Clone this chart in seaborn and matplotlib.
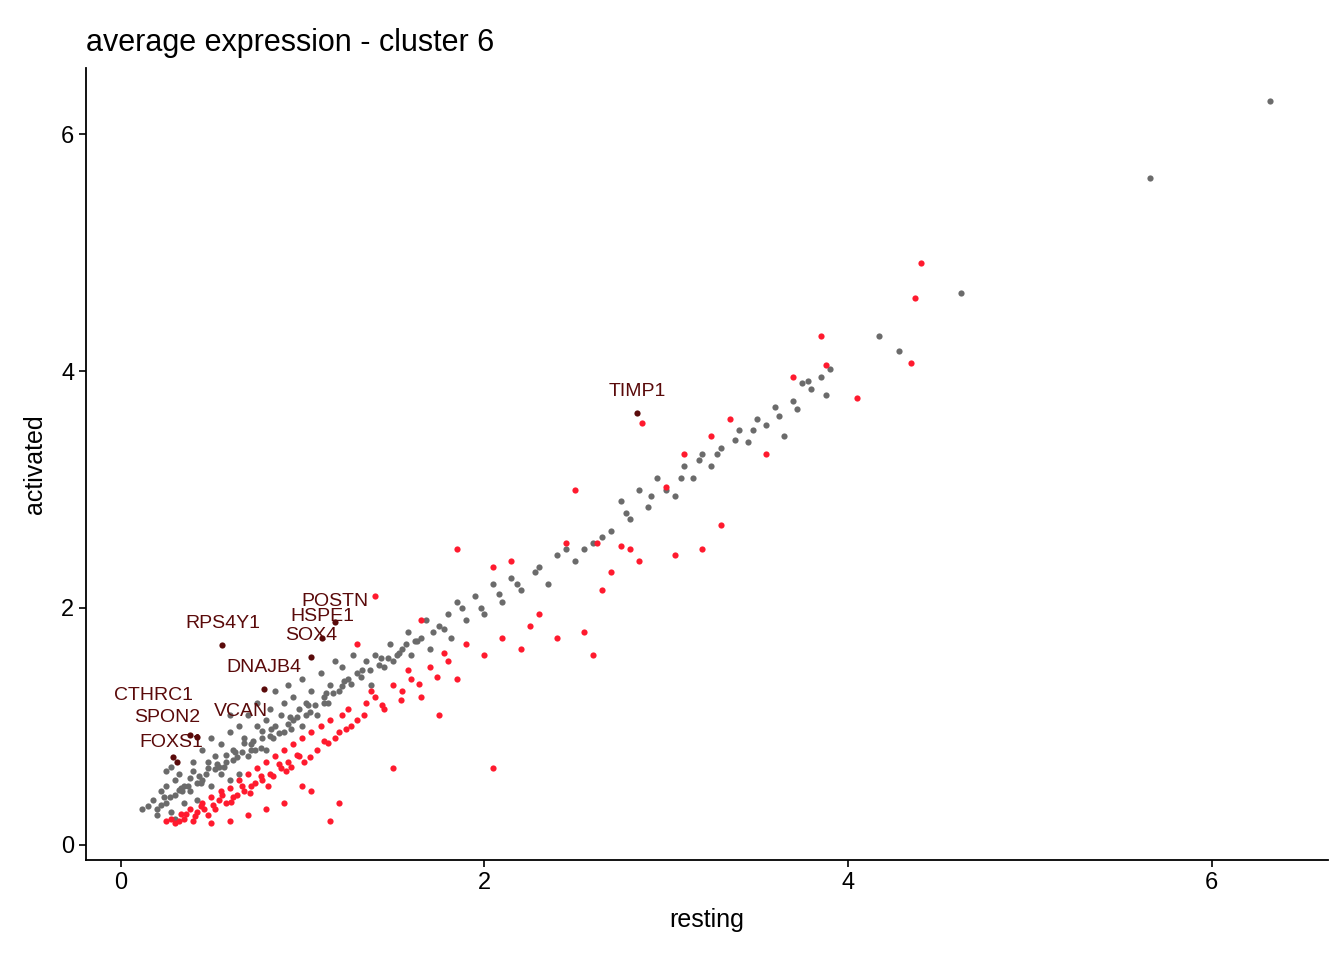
import matplotlib
matplotlib.use("Agg")
import matplotlib.pyplot as plt
import seaborn as sns
import pandas as pd

# grey: not significant genes (resting, activated)
grey_x = [0.12, 0.15, 0.18, 0.2, 0.2, 0.22, 0.25, 0.25, 0.25, 0.28, 0.28, 0.3, 0.3, 0.3, 0.32, 0.35, 0.35, 0.38,
          0.4, 0.4, 0.42, 0.45, 0.45, 0.48, 0.5, 0.5, 0.52, 0.55, 0.55, 0.58, 0.6, 0.6, 0.6, 0.62, 0.65, 0.65,
          0.68, 0.7, 0.7, 0.72, 0.75, 0.75, 0.78, 0.8, 0.8, 0.82, 0.85, 0.85, 0.88, 0.9, 0.9, 0.92, 0.95, 0.95,
          0.98, 1.0, 1.0, 1.02, 1.05, 1.08, 1.1, 1.12, 1.15, 1.18, 1.2, 1.22, 1.25, 1.28, 1.3, 1.35, 1.38, 1.4,
          1.45, 1.48, 1.5, 1.55, 1.58, 1.6, 1.65, 1.68, 1.7, 1.75, 1.8, 1.82, 1.85, 1.9, 1.95, 2.0, 2.05, 2.1,
          2.15, 2.2, 2.3, 2.35, 2.4, 2.5, 2.55, 2.6, 2.7, 2.75, 2.8, 2.85, 2.9, 2.95, 3.0, 3.05, 3.1, 3.15,
          3.2, 3.25, 3.3, 3.4, 3.45, 3.5, 3.55, 3.6, 3.65, 3.7, 3.75, 3.8, 3.85, 3.88, 3.9, 4.17, 4.28, 4.62,
          5.66, 6.32, 0.33, 0.43, 0.53, 0.63, 0.73, 0.83, 0.93, 1.03, 1.13, 1.23, 1.33, 1.43, 1.53, 1.63,
          0.22, 0.27, 0.32, 0.37, 0.42, 0.47, 0.52, 0.57, 0.62, 0.67, 0.72, 0.77, 0.82, 0.87, 0.92, 0.97,
          1.02, 1.07, 1.12, 1.17, 1.22, 1.27, 1.32, 1.37, 1.42, 1.47, 1.52, 1.57, 1.62, 1.72, 1.78, 1.88,
          1.98, 2.08, 2.18, 2.28, 2.45, 2.65, 2.78, 2.92, 3.08, 3.18, 3.28, 3.38, 3.48, 3.62, 3.72, 3.78,
          0.24, 0.34, 0.44, 0.54, 0.64, 0.74, 0.84, 0.94, 1.04, 1.14, 0.38, 0.48, 0.58, 0.68, 0.78]
grey_y = [0.3, 0.33, 0.38, 0.3, 0.25, 0.45, 0.35, 0.5, 0.62, 0.28, 0.66, 0.42, 0.55, 0.22, 0.6, 0.35, 0.5, 0.45,
          0.62, 0.7, 0.38, 0.55, 0.8, 0.65, 0.5, 0.9, 0.75, 0.6, 0.85, 0.7, 0.95, 0.55, 1.1, 0.8, 1.0, 0.6,
          0.9, 0.75, 1.1, 0.85, 1.0, 1.2, 0.9, 1.05, 0.8, 1.15, 1.0, 1.3, 1.1, 0.95, 1.2, 1.35, 1.05, 1.25,
          1.15, 1.0, 1.4, 1.2, 1.3, 1.1, 1.45, 1.25, 1.35, 1.55, 1.3, 1.5, 1.4, 1.6, 1.45, 1.55, 1.35, 1.6,
          1.5, 1.7, 1.55, 1.65, 1.8, 1.6, 1.75, 1.9, 1.65, 1.85, 1.95, 1.75, 2.05, 1.9, 2.1, 1.95, 2.2, 2.05,
          2.25, 2.15, 2.35, 2.2, 2.45, 2.4, 2.5, 2.55, 2.65, 2.9, 2.75, 3.0, 2.85, 3.1, 3.0, 2.95, 3.2, 3.1,
          3.3, 3.2, 3.35, 3.5, 3.4, 3.6, 3.55, 3.7, 3.45, 3.75, 3.9, 3.85, 3.95, 3.8, 4.02, 4.3, 4.17, 4.66,
          5.63, 6.28, 0.48, 0.58, 0.68, 0.78, 0.88, 0.98, 1.08, 1.18, 1.28, 1.38, 1.48, 1.58, 1.62, 1.72,
          0.34, 0.4, 0.46, 0.5, 0.52, 0.6, 0.64, 0.66, 0.72, 0.78, 0.8, 0.82, 0.92, 0.94, 1.02, 1.08,
          1.1, 1.18, 1.2, 1.28, 1.34, 1.36, 1.42, 1.48, 1.52, 1.58, 1.6, 1.7, 1.72, 1.8, 1.82, 2.0,
          2.0, 2.12, 2.2, 2.3, 2.5, 2.6, 2.8, 2.95, 3.1, 3.25, 3.3, 3.42, 3.5, 3.62, 3.68, 3.92,
          0.4, 0.45, 0.52, 0.66, 0.74, 0.8, 0.9, 0.98, 1.12, 1.2, 0.56, 0.7, 0.76, 0.86, 0.96]

# red: significant genes
red_x = [0.25, 0.3, 0.35, 0.38, 0.4, 0.42, 0.45, 0.48, 0.5, 0.52, 0.55, 0.58, 0.6, 0.62, 0.65, 0.68, 0.7, 0.72,
         0.75, 0.78, 0.8, 0.82, 0.85, 0.88, 0.9, 0.92, 0.95, 0.98, 1.0, 1.05, 1.08, 1.1, 1.15, 1.2, 1.22, 1.25,
         1.3, 1.35, 1.4, 1.45, 1.5, 1.55, 1.6, 1.65, 1.7, 1.75, 1.8, 1.85, 1.9, 2.0, 2.1, 2.2, 2.3, 2.4, 2.6,
         2.55, 2.65, 2.7, 2.8, 2.85, 3.05, 3.2, 3.3, 3.1, 3.35, 3.55, 3.7, 3.85, 3.88, 4.05, 4.35, 4.37, 4.4,
         1.15, 1.2, 1.5, 2.05, 0.7, 0.6, 1.3, 1.05, 0.9, 2.5, 2.45, 1.85, 2.05, 0.8, 0.5, 1.65, 1.4, 1.0,
         2.15, 2.87, 3.25, 0.33, 0.44, 0.56, 0.67, 0.77, 0.87, 0.97, 1.12, 1.27,
         0.28, 0.36, 0.46, 0.54, 0.64, 0.74, 0.84, 0.94, 1.04, 1.14, 1.24, 1.34, 1.44, 1.54, 1.64, 1.74,
         0.32, 0.41, 0.51, 0.61, 0.71, 0.81, 0.91, 1.01, 1.18, 1.38, 1.58, 1.78, 2.25, 2.62, 2.75, 3.0]
red_y = [0.2, 0.18, 0.22, 0.3, 0.2, 0.28, 0.35, 0.25, 0.4, 0.3, 0.45, 0.35, 0.48, 0.4, 0.55, 0.45, 0.6, 0.5,
         0.65, 0.55, 0.7, 0.6, 0.75, 0.65, 0.8, 0.7, 0.85, 0.75, 0.9, 0.95, 0.8, 1.0, 1.05, 0.95, 1.1, 1.15,
         1.05, 1.2, 1.25, 1.15, 1.35, 1.3, 1.4, 1.25, 1.5, 1.1, 1.55, 1.4, 1.7, 1.6, 1.75, 1.65, 1.95, 1.75, 1.6,
         1.8, 2.15, 2.3, 2.5, 2.4, 2.45, 2.5, 2.7, 3.3, 3.6, 3.3, 3.95, 4.3, 4.05, 3.77, 4.07, 4.62, 4.91,
         0.2, 0.35, 0.65, 0.65, 0.25, 0.2, 1.7, 0.45, 0.35, 3.0, 2.55, 2.5, 2.35, 0.3, 0.18, 1.9, 2.1, 0.5,
         2.4, 3.56, 3.45, 0.26, 0.33, 0.42, 0.5, 0.58, 0.68, 0.76, 0.88, 1.0,
         0.22, 0.26, 0.3, 0.38, 0.42, 0.52, 0.58, 0.66, 0.74, 0.86, 0.98, 1.1, 1.18, 1.22, 1.36, 1.42,
         0.2, 0.24, 0.34, 0.36, 0.44, 0.5, 0.62, 0.7, 0.9, 1.3, 1.48, 1.62, 1.85, 2.55, 2.52, 3.02]

# labelled genes
lab_genes = ["TIMP1", "RPS4Y1", "POSTN", "HSPE1", "SOX4", "DNAJB4", "CTHRC1", "VCAN", "SPON2", "FOXS1"]
lab_x = [2.84, 0.56, 1.18, 1.11, 1.05, 0.79, 0.29, 0.42, 0.38, 0.31]
lab_y = [3.65, 1.69, 1.88, 1.75, 1.59, 1.32, 0.74, 0.91, 0.93, 0.70]
# label offsets in points (dx, dy)
lab_dx = [0, 0, 0, 0, 0, 0, -14, 32, -16, -4]
lab_dy = [9, 9, 9, 9, 9, 9, 38, 12, 6, 8]

grey = pd.DataFrame({"resting": grey_x, "activated": grey_y})
red = pd.DataFrame({"resting": red_x, "activated": red_y})
lab = pd.DataFrame({"resting": lab_x, "activated": lab_y, "gene": lab_genes})

sns.set_style("ticks")
plt.rcParams['font.family'] = ['Liberation Sans', 'DejaVu Sans']

fig, ax = plt.subplots(figsize=(13.44, 9.6), dpi=100)
sns.scatterplot(data=grey, x="resting", y="activated", color="#6b6b6b", s=20, linewidth=0, ax=ax)
sns.scatterplot(data=red, x="resting", y="activated", color="#ff1a2e", s=20, linewidth=0, ax=ax)
sns.scatterplot(data=lab, x="resting", y="activated", color="#5a0a0a", s=20, linewidth=0, ax=ax)
for i, r in lab.iterrows():
    ax.annotate(r["gene"], (r["resting"], r["activated"]), xytext=(lab_dx[i], lab_dy[i]),
                textcoords="offset points", ha="center", va="bottom", fontsize=14, color="#5a0a0a")

ax.set_xlim(-0.19, 6.64)
ax.set_ylim(-0.13, 6.56)
ax.set_xticks([0, 2, 4, 6])
ax.set_yticks([0, 2, 4, 6])
ax.tick_params(labelsize=17, length=5, width=1.2, colors="black")
for s in ["left", "bottom"]:
    ax.spines[s].set_linewidth(1.3)
    ax.spines[s].set_color("black")
sns.despine(ax=ax)
ax.set_xlabel("resting", fontsize=18, color="black", labelpad=10)
ax.set_ylabel("activated", fontsize=18, color="black", labelpad=10)
ax.set_title("average expression - cluster 6", loc="left", fontsize=22, pad=12, color="black")
fig.subplots_adjust(left=0.064, right=0.988, bottom=0.104, top=0.929)
fig.savefig("out.png")
